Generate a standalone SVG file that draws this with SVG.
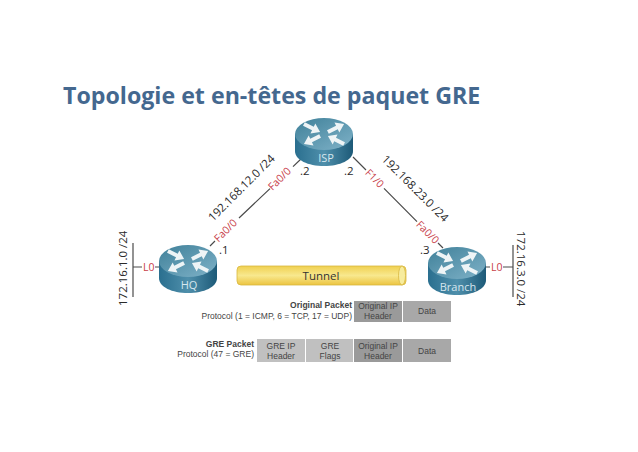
<svg xmlns="http://www.w3.org/2000/svg" width="638" height="452" viewBox="0 0 638 452">
<style>
text{font-family:"Open Sans","Noto Sans",sans-serif}
.d{font-size:11.5px;fill:#2a2a2a}
.r{font-size:10.5px;fill:#c8404a}
.w{font-size:11px;fill:#d5e6ee;text-anchor:middle}
.a{font-family:"Liberation Sans",sans-serif;font-size:8.5px;fill:#444;text-anchor:end}
.b{font-family:"Liberation Sans",sans-serif;font-size:8.5px;fill:#444;text-anchor:middle}
.ln{stroke:#4a4a4a;stroke-width:1.2;fill:none}
.arrow{fill:#eef4f6}
</style>
<defs>
<linearGradient id="rt" x1="0" y1="0" x2="1" y2="0"><stop offset="0" stop-color="#2a6f8f"/><stop offset=".5" stop-color="#4f8fab"/><stop offset="1" stop-color="#1d5a78"/></linearGradient>
<linearGradient id="tp" x1="0" y1="0" x2="1" y2="1"><stop offset="0" stop-color="#3f8099"/><stop offset="1" stop-color="#7fb2c8"/></linearGradient>
<linearGradient id="tn" x1="0" y1="0" x2="0" y2="1"><stop offset="0" stop-color="#f0d050"/><stop offset=".5" stop-color="#f8e88e"/><stop offset="1" stop-color="#ecc440"/></linearGradient>
<path id="ar" class="arrow" d="M-9,-2H1V-5.500L9,0L1,5.500V2H-9Z"/>
<g id="router">
<path d="M-29,-8V9C-29,18 -16,24 0,24S29,18 29,9V-8Z" fill="url(#rt)"/>
<ellipse cx="0" cy="-8" rx="29" ry="16" fill="url(#tp)"/>
<use href="#ar" transform="translate(-12,-14) rotate(26)"/>
<use href="#ar" transform="translate(12,-14) rotate(-26)"/>
<use href="#ar" transform="translate(-12,-2) rotate(154)"/>
<use href="#ar" transform="translate(12,-2) rotate(206)"/>
</g>
</defs>
<text x="63" y="104" font-size="23.2" font-weight="700" fill="#44688f">Topologie et en-têtes de paquet GRE</text>
<g id="connectors">
<path class="ln" d="M210,246L215,241M239,218L270,188.600M293,166.600L302,158"/>
<path class="ln" d="M353,157L366,170M384,188.300L417,221.700M438,243L443,248"/>
<path class="ln" d="M133,243V297"/>
<path class="ln" d="M133,267H142M155,267H160"/>
<path class="ln" d="M486,267H490M503,267H513"/>
<path class="ln" d="M513,245V297"/>
</g>
<g id="ISP"><use href="#router" x="324" y="142"/><text class="w" x="326" y="162">ISP</text></g>
<g id="HQ"><use href="#router" x="188" y="269"/><text class="w" x="189" y="289">HQ</text></g>
<g id="Branch"><use href="#router" x="457" y="271"/><text class="w" x="458" y="291">Branch</text></g>
<g id="labels">
<text class="d" transform="translate(213,222) rotate(-45)">192.168.12.0 /24</text>
<text class="d" transform="translate(381,160) rotate(45)">192.168.23.0 /24</text>
<text class="d" transform="translate(127,306) rotate(-90)">172.16.1.0 /24</text>
<text class="d" transform="translate(517,231) rotate(90)">172.16.3.0 /24</text>
<text class="r" transform="translate(272.500,191) rotate(-45)">Fa0/0</text>
<text class="r" transform="translate(218.500,242.700) rotate(-45)">Fa0/0</text>
<text class="r" transform="translate(364.500,173.500) rotate(45)">F1/0</text>
<text class="r" transform="translate(415.500,225.200) rotate(45)">Fa0/0</text>
<text class="r" x="143" y="271">L0</text>
<text class="r" x="491" y="271">L0</text>
<text class="d" x="219" y="254">.1</text>
<text class="d" x="300" y="175">.2</text>
<text class="d" x="344" y="175">.2</text>
<text class="d" x="420" y="254">.3</text>
</g>
<g id="tunnel">
<rect x="237" y="266" width="169" height="19" rx="4" fill="url(#tn)" stroke="#d8b840" stroke-width=".8"/>
<ellipse cx="402" cy="275.500" rx="3.500" ry="9.500" fill="#f7ec9e" stroke="#d8b840" stroke-width=".8"/>
<text x="321" y="280" font-size="11.500" text-anchor="middle" fill="#333">Tunnel</text>
</g>
<g id="original-packet">
<text class="a" x="352" y="308" font-weight="700">Original Packet</text>
<text class="a" x="352" y="319">Protocol (1 = ICMP, 6 = TCP, 17 = UDP)</text>
<rect x="354" y="301" width="48" height="21" fill="#9a9a9a"/>
<rect x="403" y="301" width="48" height="21" fill="#a8a8a8"/>
<text class="b" x="378" y="309">Original IP</text><text class="b" x="378" y="319">Header</text>
<text class="b" x="427" y="314">Data</text>
</g>
<g id="gre-packet">
<text class="a" x="254" y="347" font-weight="700">GRE Packet</text>
<text class="a" x="254" y="357">Protocol (47 = GRE)</text>
<rect x="257" y="339" width="48" height="23" fill="#c0c0c0"/>
<rect x="306" y="339" width="47" height="23" fill="#c0c0c0"/>
<rect x="354" y="339" width="48" height="23" fill="#9a9a9a"/>
<rect x="403" y="339" width="48" height="23" fill="#a8a8a8"/>
<text class="b" x="281" y="349">GRE IP</text><text class="b" x="281" y="359">Header</text>
<text class="b" x="330" y="349">GRE</text><text class="b" x="330" y="359">Flags</text>
<text class="b" x="378" y="349">Original IP</text><text class="b" x="378" y="359">Header</text>
<text class="b" x="427" y="354">Data</text>
</g>
</svg>
